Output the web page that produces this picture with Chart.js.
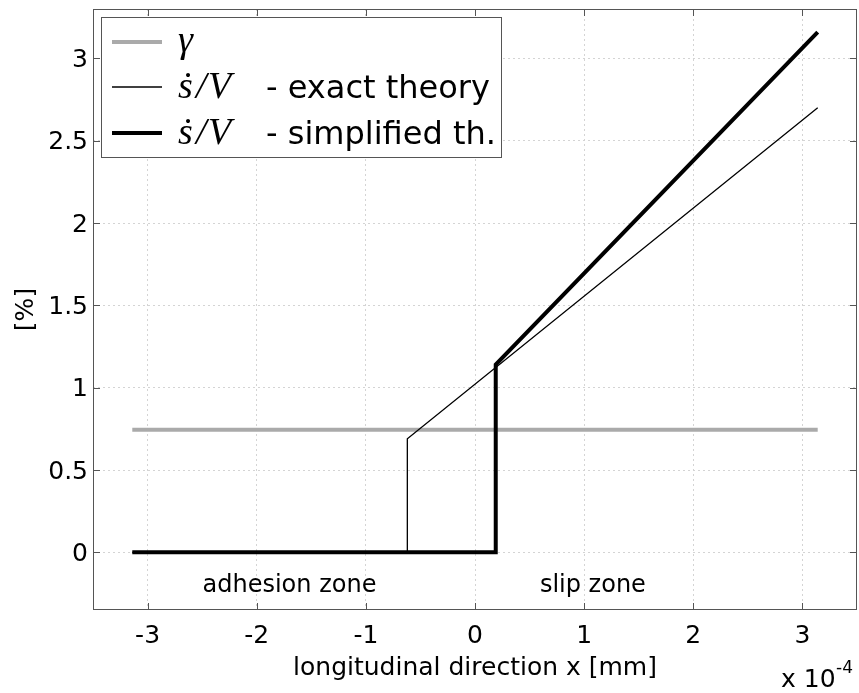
<!DOCTYPE html>
<html>
<head>
<meta charset="utf-8">
<script src="https://cdn.jsdelivr.net/npm/chart.js@4.4.1/dist/chart.umd.min.js"></script>
<style>
  html, body { margin: 0; padding: 0; background: #fff; }
  #box { width: 859px; height: 693px; }
</style>
</head>
<body>
<div id="box"><canvas id="LineChart" width="859" height="693"></canvas></div>
<script>
// tick values
const xTicks = [-3, -2, -1, 0, 1, 2, 3];
const yTicks = [0, 0.5, 1, 1.5, 2, 2.5, 3];

// gamma (constant)
const gammaX = [-3.14, 3.14];
const gammaY = [0.745, 0.745];

// s'/V - exact theory
const exactX = [-3.14, -0.62, -0.62, 3.14];
const exactY = [0, 0, 0.69, 2.70];

// s'/V - simplified theory
const simpleX = [-3.14, 0.19, 0.19, 3.14];
const simpleY = [0, 0, 1.14, 3.16];

const zoneLabels = ["adhesion zone", "slip zone"];
const xTitle = "longitudinal direction x [mm]";
const yTitle = "[%]";

const pts = (xs, ys) => xs.map((x, i) => ({ x: x, y: ys[i] }));
const axisFont = { family: "DejaVu Sans", size: 25 };

// box, inner tick marks, annotations and legend
const decor = {
  id: "decor",
  afterDraw(chart) {
    const ctx = chart.ctx;
    const a = chart.chartArea;
    const xs = chart.scales.x, ys = chart.scales.y;
    ctx.save();
    ctx.strokeStyle = "#555";
    ctx.lineWidth = 1;
    ctx.strokeRect(a.left + 0.5, a.top + 0.5, a.right - a.left - 1, a.bottom - a.top - 1);
    ctx.beginPath();
    xTicks.forEach(v => {
      const p = Math.round(xs.getPixelForValue(v)) + 0.5;
      ctx.moveTo(p, a.bottom); ctx.lineTo(p, a.bottom - 7);
      ctx.moveTo(p, a.top); ctx.lineTo(p, a.top + 7);
    });
    yTicks.forEach(v => {
      const p = Math.round(ys.getPixelForValue(v)) + 0.5;
      ctx.moveTo(a.left, p); ctx.lineTo(a.left + 7, p);
      ctx.moveTo(a.right, p); ctx.lineTo(a.right - 7, p);
    });
    ctx.stroke();

    // zone labels
    ctx.fillStyle = "#000";
    ctx.font = "24px 'DejaVu Sans'";
    ctx.textAlign = "center";
    ctx.textBaseline = "alphabetic";
    ctx.fillText(zoneLabels[0], xs.getPixelForValue(-1.7), 592);
    ctx.fillText(zoneLabels[1], xs.getPixelForValue(1.08), 592);

    // exponent
    ctx.textAlign = "left";
    ctx.font = "25px 'DejaVu Sans'";
    ctx.fillText("x 10", 781, 687);
    ctx.font = "17px 'DejaVu Sans'";
    ctx.fillText("-4", 836, 673);

    // legend
    const lx = 101.5, ly = 17.5, lw = 400, lh = 140;
    ctx.fillStyle = "#fff";
    ctx.fillRect(lx, ly, lw, lh);
    ctx.strokeStyle = "#555";
    ctx.lineWidth = 1;
    ctx.strokeRect(lx, ly, lw, lh);
    const rows = [
      { y: 42, color: "#aaaaaa", w: 4, math: "\u03b3", text: "" },
      { y: 87, color: "#000", w: 1.3, math: "\u1e61/V", text: "- exact theory" },
      { y: 133, color: "#000", w: 4, math: "\u1e61/V", text: "- simplified th." }
    ];
    rows.forEach(r => {
      ctx.strokeStyle = r.color;
      ctx.lineWidth = r.w;
      ctx.beginPath();
      ctx.moveTo(112, r.y); ctx.lineTo(162, r.y);
      ctx.stroke();
      ctx.fillStyle = "#000";
      ctx.font = "italic 38px 'Liberation Serif', 'DejaVu Serif'";
      if (r.text) {
        ctx.fillText("\u1e61", 178, r.y + 11);
        ctx.fillText("/", 196, r.y + 11);
        ctx.fillText("V", 208, r.y + 11);
        ctx.font = "32px 'DejaVu Sans'";
        ctx.fillText(r.text, 266, r.y + 11);
      } else {
        ctx.fillText(r.math, 178, r.y + 10);
      }
    });
    ctx.restore();
  }
};

const ctx = document.getElementById("LineChart").getContext("2d");
new Chart(ctx, {
  type: "line",
  data: {
    datasets: [
      { label: "gamma", data: pts(gammaX, gammaY), borderColor: "#aaaaaa", borderWidth: 4, order: 3 },
      { label: "exact theory", data: pts(exactX, exactY), borderColor: "#000", borderWidth: 1.3, order: 2 },
      { label: "simplified th.", data: pts(simpleX, simpleY), borderColor: "#000", borderWidth: 4, order: 1 }
    ]
  },
  options: {
    responsive: false,
    animation: false,
    devicePixelRatio: 1,
    layout: { padding: { top: 9, right: 2, left: 0, bottom: 0 } },
    elements: { point: { radius: 0 }, line: { tension: 0, borderJoinStyle: "miter" } },
    plugins: { legend: { display: false }, tooltip: { enabled: false } },
    scales: {
      x: {
        type: "linear",
        min: -3.5,
        max: 3.5,
        afterBuildTicks: s => { s.ticks = xTicks.map(v => ({ value: v })); },
        afterFit: s => { s.height = 83; s.paddingLeft = 0; s.paddingRight = 0; },
        grid: { color: "#d4d4d4", lineWidth: 1, drawTicks: false },
        border: { display: false, dash: [2, 3] },
        ticks: { color: "#000", font: axisFont, padding: 11, maxRotation: 0, callback: v => String(v) },
        title: { display: true, text: xTitle, color: "#000", font: axisFont, padding: { bottom: 10 } }
      },
      y: {
        type: "linear",
        min: -0.35,
        max: 3.3,
        afterBuildTicks: s => { s.ticks = yTicks.map(v => ({ value: v })); },
        afterFit: s => { s.width = 93; s.paddingTop = 0; s.paddingBottom = 0; },
        grid: { color: "#d4d4d4", lineWidth: 1, drawTicks: false },
        border: { display: false, dash: [2, 3] },
        ticks: { color: "#000", font: axisFont, padding: 5, labelOffset: 2, callback: v => String(v) },
        title: { display: true, text: yTitle, color: "#000", font: axisFont, padding: { top: 11 } }
      }
    }
  },
  plugins: [decor]
});
</script>
</body>
</html>
